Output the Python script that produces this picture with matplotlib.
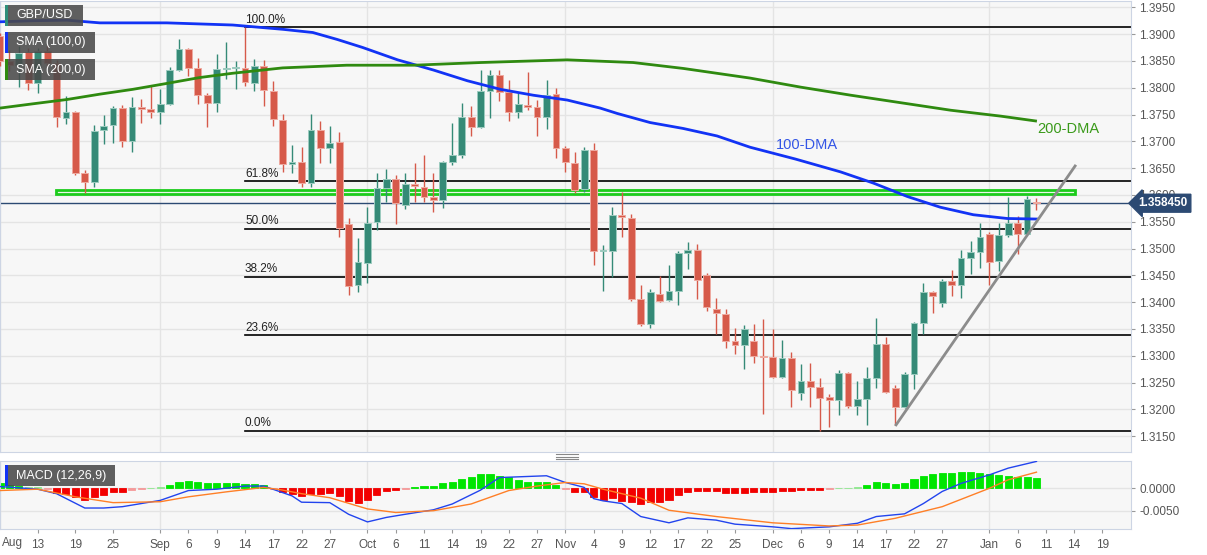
import numpy as np
import pandas as pd
import matplotlib
matplotlib.use("Agg")
import matplotlib.pyplot as plt
import matplotlib.transforms as mtransforms
from matplotlib.patches import Rectangle

plt.rcParams["font.family"] = ["Liberation Sans", "DejaVu Sans"]

# GBP/USD daily candles, 9 Aug 2021 -> 10 Jan 2022 (weekdays)
dates = pd.bdate_range("2021-08-09", "2022-01-10")

opens = [1.3896, 1.3849, 1.3843, 1.3866, 1.3809, 1.3868, 1.3846, 1.3743, 1.3754, 1.3641,
         1.3624, 1.3721, 1.3730, 1.3762, 1.3700, 1.3764, 1.3760, 1.3754, 1.3769, 1.3833,
         1.3873, 1.3836, 1.3787, 1.3771, 1.3835, 1.3836, 1.3837, 1.3809, 1.3840, 1.3793,
         1.3740, 1.3657, 1.3661, 1.3623, 1.3721, 1.3687, 1.3698, 1.3545, 1.3432, 1.3473,
         1.3549, 1.3612, 1.3629, 1.3582, 1.3621, 1.3615, 1.3596, 1.3590, 1.3661, 1.3674,
         1.3745, 1.3727, 1.3794, 1.3823, 1.3792, 1.3755, 1.3768, 1.3764, 1.3746, 1.3788,
         1.3687, 1.3659, 1.3611, 1.3684, 1.3496, 1.3496, 1.3562, 1.3557, 1.3406, 1.3360,
         1.3416, 1.3404, 1.3421, 1.3491, 1.3497, 1.3450, 1.3388, 1.3378, 1.3328, 1.3320,
         1.3327, 1.3300, 1.3298, 1.3261, 1.3296, 1.3231, 1.3253, 1.3241, 1.3223, 1.3217,
         1.3268, 1.3206, 1.3219, 1.3258, 1.3322, 1.3240, 1.3205, 1.3266, 1.3361, 1.3418,
         1.3399, 1.3440, 1.3432, 1.3482, 1.3493, 1.3528, 1.3476, 1.3526, 1.3547, 1.3528, 1.3586]
highs = [1.3902, 1.3871, 1.3877, 1.3875, 1.3875, 1.3880, 1.3852, 1.3785, 1.3757, 1.3647,
         1.3731, 1.3749, 1.3766, 1.3767, 1.3782, 1.3779, 1.3806, 1.3798, 1.3839, 1.3891,
         1.3874, 1.3856, 1.3791, 1.3862, 1.3886, 1.3849, 1.3913, 1.3854, 1.3851, 1.3812,
         1.3751, 1.3693, 1.3689, 1.3751, 1.3737, 1.3729, 1.3718, 1.3556, 1.3519, 1.3578,
         1.3641, 1.3649, 1.3637, 1.3640, 1.3660, 1.3675, 1.3640, 1.3664, 1.3735, 1.3772,
         1.3765, 1.3833, 1.3833, 1.3833, 1.3815, 1.3790, 1.3829, 1.3778, 1.3815, 1.3800,
         1.3692, 1.3680, 1.3690, 1.3697, 1.3506, 1.3578, 1.3606, 1.3564, 1.3432, 1.3424,
         1.3449, 1.3470, 1.3496, 1.3513, 1.3508, 1.3455, 1.3407, 1.3388, 1.3351, 1.3358,
         1.3360, 1.3368, 1.3349, 1.3330, 1.3307, 1.3284, 1.3286, 1.3258, 1.3228, 1.3273,
         1.3270, 1.3253, 1.3279, 1.3371, 1.3335, 1.3245, 1.3269, 1.3362, 1.3435, 1.3420,
         1.3443, 1.3460, 1.3498, 1.3514, 1.3548, 1.3531, 1.3548, 1.3597, 1.3561, 1.3598, 1.3595]
lows = [1.3840, 1.3831, 1.3802, 1.3795, 1.3790, 1.3840, 1.3726, 1.3732, 1.3637, 1.3603,
        1.3615, 1.3695, 1.3697, 1.3689, 1.3680, 1.3734, 1.3743, 1.3732, 1.3767, 1.3831,
        1.3822, 1.3769, 1.3726, 1.3754, 1.3817, 1.3797, 1.3804, 1.3794, 1.3765, 1.3729,
        1.3643, 1.3641, 1.3615, 1.3615, 1.3660, 1.3660, 1.3522, 1.3413, 1.3418, 1.3436,
        1.3535, 1.3586, 1.3545, 1.3574, 1.3587, 1.3586, 1.3569, 1.3576, 1.3656, 1.3669,
        1.3709, 1.3724, 1.3743, 1.3775, 1.3737, 1.3743, 1.3759, 1.3709, 1.3723, 1.3669,
        1.3643, 1.3603, 1.3605, 1.3469, 1.3421, 1.3447, 1.3522, 1.3403, 1.3355, 1.3351,
        1.3401, 1.3403, 1.3395, 1.3461, 1.3405, 1.3383, 1.3340, 1.3314, 1.3303, 1.3276,
        1.3286, 1.3192, 1.3259, 1.3258, 1.3205, 1.3218, 1.3205, 1.3160, 1.3167, 1.3189,
        1.3203, 1.3190, 1.3171, 1.3239, 1.3230, 1.3171, 1.3202, 1.3237, 1.3340, 1.3380,
        1.3390, 1.3412, 1.3407, 1.3452, 1.3464, 1.3431, 1.3458, 1.3521, 1.3489, 1.3528, 1.3571]
closes = [1.3849, 1.3843, 1.3865, 1.3809, 1.3868, 1.3846, 1.3745, 1.3754, 1.3641, 1.3624,
          1.3720, 1.3728, 1.3762, 1.3700, 1.3764, 1.3760, 1.3754, 1.3769, 1.3833, 1.3873,
          1.3836, 1.3787, 1.3771, 1.3835, 1.3837, 1.3839, 1.3810, 1.3840, 1.3795, 1.3741,
          1.3658, 1.3661, 1.3623, 1.3721, 1.3687, 1.3697, 1.3539, 1.3430, 1.3475, 1.3547,
          1.3612, 1.3629, 1.3584, 1.3621, 1.3617, 1.3596, 1.3590, 1.3661, 1.3674, 1.3745,
          1.3727, 1.3794, 1.3823, 1.3792, 1.3755, 1.3769, 1.3764, 1.3746, 1.3786, 1.3687,
          1.3661, 1.3609, 1.3684, 1.3496, 1.3498, 1.3562, 1.3558, 1.3406, 1.3360, 1.3419,
          1.3402, 1.3421, 1.3491, 1.3497, 1.3441, 1.3390, 1.3379, 1.3328, 1.3320, 1.3350,
          1.3300, 1.3298, 1.3261, 1.3296, 1.3236, 1.3253, 1.3241, 1.3222, 1.3218, 1.3267,
          1.3206, 1.3219, 1.3258, 1.3322, 1.3233, 1.3205, 1.3266, 1.3361, 1.3418, 1.3412,
          1.3440, 1.3432, 1.3482, 1.3493, 1.3521, 1.3475, 1.3525, 1.3547, 1.3528, 1.3592, 1.35845]

# moving averages (day position, price)
sma100_pos = [0, 3.5, 7.1, 10.6, 17.7, 21.2, 24.7, 30, 33.2, 35.8, 38.5, 42.2, 46, 49.6, 53.1,
              56.6, 60.2, 63.7, 65.5, 69, 72.5, 76.1, 79.6, 84.4, 89.2, 92.7, 96.3, 99.8,
              103.3, 106.9, 110]
sma100_val = [1.3923, 1.3925, 1.3926, 1.3921, 1.3921, 1.3919, 1.3917, 1.3909, 1.3903, 1.3890,
              1.3875, 1.3852, 1.3833, 1.3813, 1.3797, 1.3786, 1.3777, 1.3762, 1.3752, 1.3735,
              1.3724, 1.3710, 1.3689, 1.3667, 1.3643, 1.3622, 1.3597, 1.3577, 1.3563, 1.3556,
              1.3555]
sma200_pos = [0, 3.5, 7.1, 10.6, 14.1, 17.7, 21.2, 24.7, 30, 36.8, 43.9, 51, 60.2, 67.2, 72.5,
              79.6, 85, 90.3, 95.6, 100.9, 106.2, 109.9]
sma200_val = [1.3762, 1.3770, 1.3778, 1.3788, 1.3797, 1.3808, 1.3819, 1.3827, 1.3837, 1.3842,
              1.3842, 1.3847, 1.3852, 1.3847, 1.3836, 1.3818, 1.3801, 1.3786, 1.3772, 1.3758,
              1.3747, 1.3738]

# MACD (12,26,9)
macd_hist = [0.0012, 0.0008, 0.0005, 0.0003, 0.0002, -0.0002, -0.0010, -0.0012, -0.0019, -0.0025,
             -0.0019, -0.0015, -0.0009, -0.0009, -0.0003, -0.0001, 0.0001, 0.0003, 0.0008, 0.0015,
             0.0017, 0.0014, 0.0011, 0.0012, 0.0012, 0.0011, 0.0010, 0.0010, 0.0007, -0.0001,
             -0.0008, -0.0013, -0.0018, -0.0013, -0.0012, -0.0010, -0.0018, -0.0028, -0.0032, -0.0027,
             -0.0016, -0.0007, -0.0004, -0.0001, 0.0004, 0.0005, 0.0006, 0.0011, 0.0015, 0.0021,
             0.0025, 0.0032, 0.0032, 0.0027, 0.0025, 0.0019, 0.0015, 0.0015, 0.0014, 0.0007,
             -0.0002, -0.0008, -0.0008, -0.0019, -0.0026, -0.0022, -0.0028, -0.0030, -0.0034, -0.0031,
             -0.0030, -0.0025, -0.0016, -0.0008, -0.0006, -0.0006, -0.0007, -0.0010, -0.0011, -0.0010,
             -0.0009, -0.0008, -0.0009, -0.0006, -0.0005, -0.0004, -0.0004, -0.0004, -0.0002, 0.0001,
             0.0001, 0.0002, 0.0007, 0.0013, 0.0012, 0.0010, 0.0012, 0.0020, 0.0028, 0.0031,
             0.0034, 0.0034, 0.0036, 0.0036, 0.0034, 0.0032, 0.0030, 0.0028, 0.0026, 0.0025, 0.0023]
macd_pos = [0, 4, 6, 9, 11, 13, 17, 20, 23, 26, 28, 31, 32, 35, 37, 39, 41, 43, 46, 48, 51, 53,
            58, 60, 62, 63, 64, 66, 68, 71, 73, 76, 78, 82, 84, 88, 91, 93, 96, 98, 100, 102,
            105, 107, 110]
macd_line = [0.0004, -0.0002, -0.0012, -0.0044, -0.0044, -0.0041, -0.0027, -0.0005, -0.0002,
             0.0005, 0.0005, -0.0017, -0.0031, -0.0032, -0.0058, -0.0075, -0.0065, -0.0058,
             -0.0048, -0.0035, -0.0004, 0.0024, 0.0028, 0.0013, 0.0002, -0.0023, -0.0028,
             -0.0034, -0.0063, -0.0077, -0.0066, -0.0071, -0.0080, -0.0086, -0.0090, -0.0086,
             -0.0078, -0.0063, -0.0057, -0.0034, -0.0007, 0.0011, 0.0030, 0.0045, 0.0060]
signal_pos = [0, 4, 8, 12, 17, 20, 24, 28, 30, 32, 35, 39, 42, 46, 50, 54, 57, 60, 62, 64, 66,
              68, 71, 76, 82, 88, 91, 95, 100, 105, 107, 110]
signal_line = [-0.0005, -0.0002, -0.0019, -0.0032, -0.0030, -0.0019, -0.0008, 0.0002, -0.0004,
               -0.0012, -0.0021, -0.0046, -0.0054, -0.0050, -0.0035, -0.0005, 0.0005, 0.0013,
               0.0010, -0.0002, -0.0012, -0.0022, -0.0049, -0.0063, -0.0077, -0.0084, -0.0082,
               -0.0067, -0.0041, 0.0000, 0.0019, 0.0036]

# annotations
fib_high, fib_low = 1.3913, 1.3160
fib_start = 26
fib_levels = [0.0, 0.236, 0.382, 0.5, 0.618, 1.0]
zone_pos = [5.95, 114.1]
zone_price = [1.3601, 1.3610]
trend_pos = [95.1, 114.1]
trend_price = [1.3171, 1.3654]
last_price = 1.35845

tick_dates = ["2021-08-13", "2021-08-19", "2021-08-25", "2021-09-01", "2021-09-06", "2021-09-09",
              "2021-09-14", "2021-09-17", "2021-09-22", "2021-09-27", "2021-10-01", "2021-10-06",
              "2021-10-11", "2021-10-14", "2021-10-19", "2021-10-22", "2021-10-27", "2021-11-01",
              "2021-11-04", "2021-11-09", "2021-11-12", "2021-11-17", "2021-11-22", "2021-11-25",
              "2021-12-01", "2021-12-06", "2021-12-09", "2021-12-14", "2021-12-17", "2021-12-22",
              "2021-12-27", "2022-01-03", "2022-01-06"]
tick_labels = ["13", "19", "25", "Sep", "6", "9", "14", "17", "22", "27", "Oct", "6", "11", "14",
               "19", "22", "27", "Nov", "4", "9", "12", "17", "22", "25", "Dec", "6", "9", "14",
               "17", "22", "27", "Jan", "6"]
future_labels = ["11", "14", "19"]   # days after the last candle
future_steps = [1, 4, 7]

W, H = 1207, 555
GREEN, RED = "#358a77", "#d65a4a"
GRID = "#e4e4e4"
BORDER = "#cdd5e4"

x = np.arange(len(dates))
o, h, l, c = map(np.array, (opens, highs, lows, closes))
up = c >= o

fig = plt.figure(figsize=(W / 100, H / 100), dpi=100)
ax = fig.add_axes([0, (H - 451.7) / H, 1130.7 / W, 450.7 / H])
axm = fig.add_axes([0, (H - 529.3) / H, 1130.7 / W, 68.6 / H])

for a in (ax, axm):
    a.set_facecolor("#f7f7f7")
    for s in a.spines.values():
        s.set_color(BORDER)
    a.yaxis.tick_right()
    a.tick_params(axis="y", length=3, pad=3, colors="#999999", labelcolor="#555555", labelsize=8.5)
    a.set_xlim(0, 120)
    # month starts
    months = pd.Series(dates).groupby([dates.year, dates.month]).first()
    for d in months:
        a.axvline(dates.get_loc(d), color=GRID, lw=1, zorder=0)

# ---- price panel ----
ax.set_ylim(1.31209, 1.39618)
yt = np.arange(1.3150, 1.39501, 0.005)
ax.set_yticks(yt)
ax.set_yticklabels([f"{v:.4f}" for v in yt])
for v in yt:
    ax.axhline(v, color=GRID, lw=1, zorder=0)
ax.set_xticks([])

ax.vlines(x, l, h, colors=np.where(up, GREEN, RED), lw=1, zorder=3)
ax.bar(x, np.maximum(np.abs(c - o), 0.00006), bottom=np.minimum(o, c), width=0.72,
       color=np.where(up, GREEN, RED), edgecolor=np.where(up, "#9ccbbf", "#eeaaa0"),
       lw=0.7, zorder=4)

ax.plot(sma100_pos, sma100_val, color="#1233f5", lw=2, zorder=5)
ax.plot(sma200_pos, sma200_val, color="#2f8a10", lw=2, zorder=5)

# fibonacci retracement
for lv in fib_levels:
    p = fib_low + lv * (fib_high - fib_low)
    ax.plot([fib_start, 120], [p, p], color="black", lw=1.2, zorder=2)
    ax.text(fib_start, p + 0.0003, f"{lv * 100:.1f}%", fontsize=8.5, color="#222222",
            va="bottom", ha="left", zorder=6)

ax.add_patch(Rectangle((zone_pos[0], zone_price[0]), zone_pos[1] - zone_pos[0],
                       zone_price[1] - zone_price[0], facecolor="#e9f7e9",
                       edgecolor="#1ccc1c", lw=2, zorder=2))
ax.plot(trend_pos, trend_price, color="#8c8c8c", lw=2, zorder=6)
ax.axhline(last_price, color="#2c4a73", lw=1, zorder=2)

ax.text(82.3, 1.36933, "100-DMA", color="#3355e6", fontsize=10.5, va="center", ha="left")
ax.text(110.1, 1.37229, "200-DMA", color="#3a9a1a", fontsize=10.5, va="center", ha="left")

tr = mtransforms.blended_transform_factory(ax.transAxes, ax.transData)
ax.text(1.007, last_price, f"{last_price:.6f}", transform=tr, color="white", fontsize=8.5,
        fontweight="bold", va="center", ha="left", zorder=10,
        bbox=dict(boxstyle="larrow,pad=0.25", facecolor="#2c4a73", edgecolor="#2c4a73"))

# ---- MACD panel ----
axm.set_ylim(-0.00915, 0.00616)
axm.set_yticks([0, -0.005])
axm.set_yticklabels(["0.0000", "-0.0050"])
for v in (0, -0.005):
    axm.axhline(v, color=GRID, lw=1, zorder=0)
hist = np.array(macd_hist)
light = np.abs(hist) < 0.00035
hcol = np.where(hist >= 0, np.where(light, "#8ee88e", "#00e600"),
                np.where(light, "#f59a9a", "#f20000"))
axm.bar(x, hist, width=0.75, color=hcol, edgecolor=hcol, lw=0.6, zorder=2)
axm.plot(macd_pos, macd_line, color="#2244ee", lw=1, zorder=3)
axm.plot(signal_pos, signal_line, color="#ff7f27", lw=1, zorder=3)

tpos = [dates.get_loc(pd.Timestamp(d)) for d in tick_dates]
tpos += [len(dates) - 1 + s for s in future_steps]
axm.set_xticks(tpos)
axm.set_xticklabels(tick_labels + future_labels)
axm.tick_params(axis="x", length=3, pad=4, colors="#999999", labelcolor="#555555", labelsize=8.5)
fig.text(2 / W, 1 - 543 / H, "Aug", fontsize=8.5, color="#555555", va="center", ha="left")

# splitter between panels
for yy in (454, 456.5, 459):
    fig.add_artist(plt.Line2D([556 / W, 578 / W], [1 - yy / H, 1 - yy / H],
                              transform=fig.transFigure, color="#888888", lw=0.8))


# ---- legend tags ----
def tag(x0, y0, x1, y1, strip, label):
    fig.add_artist(Rectangle((x0 / W, 1 - y1 / H), (x1 - x0) / W, (y1 - y0) / H,
                             transform=fig.transFigure, facecolor="#4a4a4a", alpha=0.88,
                             edgecolor="none", zorder=20))
    fig.add_artist(Rectangle((x0 / W, 1 - y1 / H), 2.5 / W, (y1 - y0) / H,
                             transform=fig.transFigure, facecolor=strip, edgecolor="none", zorder=21))
    fig.text((x0 + 11) / W, 1 - (y0 + y1) / 2 / H, label, color="white", fontsize=9,
             va="center", ha="left", zorder=22)


tag(5, 5, 83, 26, "#2f8f7a", "GBP/USD")
tag(5, 32, 95, 53, "#1233f5", "SMA (100,0)")
tag(5, 59, 95, 80, "#2f8a10", "SMA (200,0)")
tag(5, 465, 115, 486, "#1233f5", "MACD (12,26,9)")

fig.savefig("out.png", dpi=100, facecolor="white")
